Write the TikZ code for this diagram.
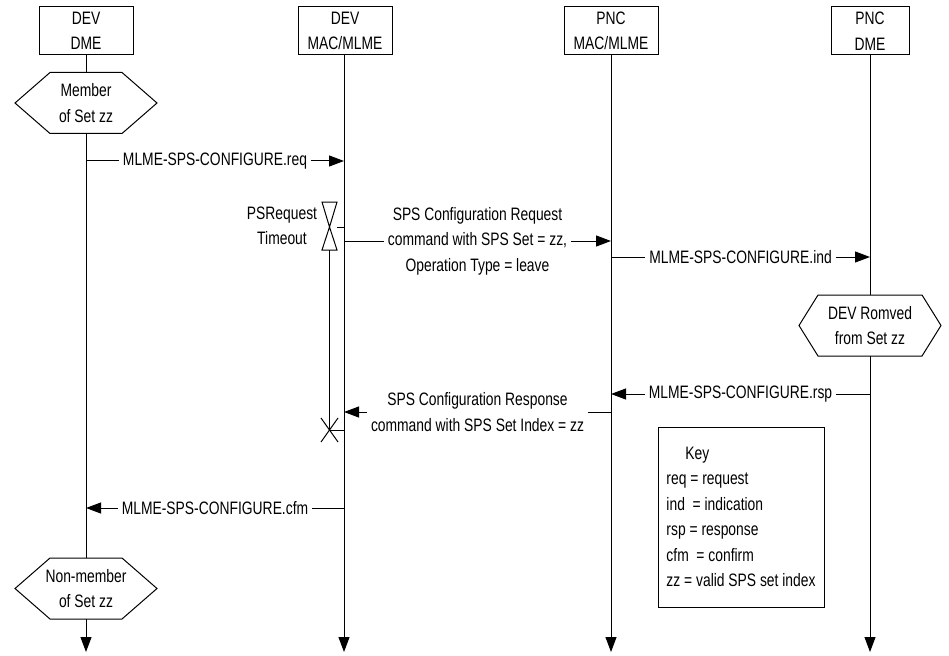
\documentclass[tikz,border=0pt]{standalone}
\usepackage{fontspec}
\setmainfont{Liberation Sans}[FakeStretch=0.77]
\usetikzlibrary{arrows.meta,calc}
\tikzset{
  hdr/.style={draw, minimum width=94pt, minimum height=48pt, align=center, inner sep=0pt},
  hexbox/.style={minimum width=141pt, minimum height=60pt, align=center, inner sep=0pt},
  msg/.style={fill=white, inner sep=4pt, align=center},
  arr/.style={-{Triangle[length=15pt,width=11pt]}}
}
\newcommand\hexdraw[2]{\draw (#1.west) -- ([xshift=#2]#1.north west) -- ([xshift=-#2]#1.north east) -- (#1.east) -- ([xshift=-#2]#1.south east) -- ([xshift=#2]#1.south west) -- cycle;}
\begin{document}
\begin{tikzpicture}[x=1pt,y=-1pt,font=\fontsize{18}{25.5}\selectfont,line width=1pt]
\useasboundingbox (0,0) rectangle (949,655);
% headers
\node[hdr] (d1) at (86,31) {DEV\\DME};
\node[hdr] (d2) at (345,31) {DEV\\MAC/MLME};
\node[hdr] (d3) at (611,31) {PNC\\MAC/MLME};
\node[hdr, minimum width=78pt] (d4) at (870,31) {PNC\\DME};
% hexagons
\node[hexbox] (h1) at (86,103) {Member\\of Set zz};
\hexdraw{h1}{35pt}
\node[hexbox] (h2) at (870,325.5) {DEV Romved\\from Set zz};
\hexdraw{h2}{19pt}
\node[hexbox] (h3) at (86,588.5) {Non-member\\of Set zz};
\hexdraw{h3}{35pt}
% lifeline ends
\coordinate (e1) at (86,652);
\coordinate (e2) at (344,652);
\coordinate (e3) at (611,652);
\coordinate (e4) at (870,652);
\draw (d1.south) -- (h1.north);
\draw (h1.south) -- (h3.north);
\draw[arr] (h3.south) -- (e1);
\draw[arr] (d2.south -| e2) -- (e2);
\draw[arr] (d3.south) -- (e3);
\draw (d4.south) -- (h2.north);
\draw[arr] (h2.south) -- (e4);
% messages
\coordinate (m1a) at (86,161);  \coordinate (m1b) at (344,161);
\draw[arr] (m1a) -- node[msg] {MLME-SPS-CONFIGURE.req} (m1b);
\coordinate (m2a) at (344,241); \coordinate (m2b) at (611,241);
\draw[arr] (m2a) -- node[msg] {SPS Configuration Request\\command with SPS Set = zz,\\Operation Type = leave} (m2b);
\coordinate (m3a) at (611,257); \coordinate (m3b) at (870,257);
\draw[arr] (m3a) -- node[msg] {MLME-SPS-CONFIGURE.ind} (m3b);
\coordinate (m4a) at (870,394); \coordinate (m4b) at (611,394);
\draw[arr] (m4a) -- node[msg] {MLME-SPS-CONFIGURE.rsp} (m4b);
\coordinate (m5a) at (611,412); \coordinate (m5b) at (344,412);
\draw[arr] (m5a) -- node[msg] {SPS Configuration Response\\command with SPS Set Index = zz} (m5b);
\coordinate (m6a) at (344,508); \coordinate (m6b) at (86,508);
\draw[arr] (m6a) -- node[msg] {MLME-SPS-CONFIGURE.cfm} (m6b);
% timer
\node[align=center, inner sep=0pt] (tt) at (282,226) {PSRequest\\Timeout};
\coordinate (tc) at (329.5,227);
\coordinate (tx) at (329.5,430);
\draw (322,202) -- (337,202) -- (tc) -- cycle;
\draw (tc) -- (322,250) -- (337,250) -- cycle;
\draw (337,227) -- (344,227);
\draw (329.5,250) -- (tx);
\draw (321,418) -- (338,442);
\draw (321,442) -- (338,418);
\draw (tx) -- (344,430);
% key
\node[draw, minimum width=166pt, minimum height=180pt, align=left, inner sep=0pt] (key) at (741,517)
  {\hspace{19pt}Key\\req = request\\ind\ \ = indication\\rsp = response\\cfm\ \ = confirm\\zz = valid SPS set index};
\end{tikzpicture}
\end{document}
